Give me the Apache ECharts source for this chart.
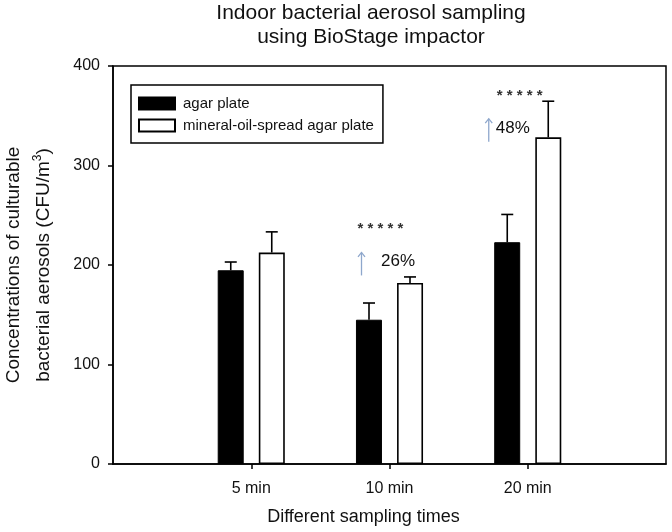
<!DOCTYPE html>
<html>
<head>
<meta charset="utf-8">
<script src="https://cdn.jsdelivr.net/npm/echarts@6/dist/echarts.min.js"></script>
<style>html,body{margin:0;padding:0;background:#fff}#c{width:672px;height:532px}</style>
</head>
<body>
<div id="c"></div>
<script>
// ---- data ----
const categories = ['', '5 min', '10 min', '20 min', ''];
const seriesNames = ['agar plate', 'mineral-oil-spread agar plate'];
const agarValues = [194.7, 145, 222.9];
const agarErr = [8.3, 16.8, 27.9];
const oilValues = [212.5, 182, 328.3];
const oilErr = [20.8, 6, 36.3];
const yTicks = [0, 100, 200, 300, 400];
const starText = ['* * * * *', '* * * * *'];
const pctText = ['26%', '48%'];
const annotCats = [2, 3];

const FONT = '"Liberation Sans", Arial, sans-serif';
const chart = echarts.init(document.getElementById('c'), null, {renderer: 'canvas'});

function barData(vals) { return vals.map((v, i) => [i + 1, v]); }
function errData(vals, errs) { return vals.map((v, i) => [i + 1, v, v + errs[i]]); }

function errRender(offset) {
  return function (params, api) {
    const base = api.coord([api.value(0), api.value(1)]);
    const top = api.coord([api.value(0), api.value(2)]);
    const x = base[0] + offset;
    const half = 6;
    const st = {stroke: '#000', lineWidth: 1.6};
    return {type: 'group', children: [
      {type: 'line', shape: {x1: x, y1: base[1], x2: x, y2: top[1]}, style: st},
      {type: 'line', shape: {x1: x - half, y1: top[1], x2: x + half, y2: top[1]}, style: st}
    ]};
  };
}

const option = {
  animation: false,
  backgroundColor: '#fff',
  title: {
    text: 'Indoor bacterial aerosol sampling\nusing BioStage impactor',
    left: 371, top: 1, padding: 0, textAlign: 'center',
    textStyle: {fontFamily: FONT, fontSize: 21, fontWeight: 'normal', color: '#111', lineHeight: 24}
  },
  legend: {
    orient: 'vertical', left: 131, top: 85,
    padding: [11, 9, 10, 7],
    borderColor: '#000', borderWidth: 1.5,
    itemWidth: 36, itemHeight: 12, itemGap: 7, icon: 'rect',
    textStyle: {fontFamily: FONT, fontSize: 15, color: '#111', padding: [0, 0, 0, 3]},
    data: seriesNames
  },
  grid: {left: 113, right: 6, top: 66, bottom: 68, containLabel: false, outerBoundsMode: 'none',
    show: true, borderColor: '#000', borderWidth: 1.5, backgroundColor: 'transparent'},
  xAxis: {
    type: 'category', data: categories, boundaryGap: false,
    axisLine: {lineStyle: {color: '#000', width: 1.5}},
    axisTick: {length: 5, lineStyle: {color: '#000', width: 1.5}, interval: (i) => i > 0 && i < categories.length - 1},
    axisLabel: {fontFamily: FONT, fontSize: 16, color: '#111', margin: 17, interval: 0},
    splitLine: {show: false},
    name: 'Different sampling times', nameLocation: 'middle', nameGap: 44,
    nameTextStyle: {fontFamily: FONT, fontSize: 18, color: '#111', padding: [0, 52, 0, 0]}
  },
  yAxis: {
    type: 'value', min: yTicks[0], max: yTicks[yTicks.length - 1], interval: 100,
    axisLine: {show: true, lineStyle: {color: '#000', width: 1.5}},
    axisTick: {show: true, length: 5, lineStyle: {color: '#000', width: 1.5}},
    axisLabel: {fontFamily: FONT, fontSize: 16, color: '#111', margin: 13},
    splitLine: {show: false},
    name: '{a|Concentrations of culturable}\n{a|bacterial aerosols (CFU/m}{s|3}{a|)}',
    nameLocation: 'middle', nameGap: 54, nameRotate: 90,
    nameTextStyle: {
      rich: {
        a: {fontFamily: FONT, fontSize: 19, color: '#111', lineHeight: 30},
        s: {fontFamily: FONT, fontSize: 12, color: '#111', lineHeight: 30, padding: [0, 0, 12, 0]}
      }
    }
  },
  series: [
    {name: seriesNames[0], type: 'bar', data: barData(agarValues), barWidth: 26, barGap: '58%',
     itemStyle: {color: '#000', borderColor: '#000', borderWidth: 1}},
    {name: seriesNames[1], type: 'bar', data: barData(oilValues), barWidth: 26, barGap: '58%',
     itemStyle: {color: '#fff', borderColor: '#000', borderWidth: 1.6}},
    {type: 'custom', renderItem: errRender(-20.5), data: errData(agarValues, agarErr), z: 5, silent: true},
    {type: 'custom', renderItem: errRender(20.5), data: errData(oilValues, oilErr), z: 5, silent: true}
  ]
};
chart.setOption(option);

// annotations placed relative to the white bars' error-bar caps (pixel offsets only)
const annotLayout = [
  {star: [-9, -51], pct: [8.5, -16], arrow: [-28, -13]},
  {star: [-8, -8], pct: [-15, 27], arrow: [-39, 29]}
];
const graphics = [];
annotCats.forEach((cat, k) => {
  const vi = cat - 1;
  const p = chart.convertToPixel({xAxisIndex: 0, yAxisIndex: 0}, [cat, oilValues[vi] + oilErr[vi]]);
  const L = annotLayout[k];
  graphics.push({type: 'text', x: p[0] + L.star[0], y: p[1] + L.star[1] + 3,
    style: {text: starText[k], font: 'bold 15px ' + FONT, fill: '#333', textAlign: 'center', textVerticalAlign: 'middle'}});
  graphics.push({type: 'text', x: p[0] + L.pct[0], y: p[1] + L.pct[1],
    style: {text: pctText[k], font: '17px ' + FONT, fill: '#111', textAlign: 'center', textVerticalAlign: 'middle'}});
  const ax = p[0] + L.arrow[0], ay = p[1] + L.arrow[1];
  graphics.push({type: 'line', shape: {x1: ax, y1: ay - 11.5, x2: ax, y2: ay + 11.5}, style: {stroke: '#8ea7cc', lineWidth: 1.3}});
  graphics.push({type: 'polyline', shape: {points: [[ax - 3.5, ay - 7], [ax, ay - 11.5], [ax + 3.5, ay - 7]]}, style: {stroke: '#8ea7cc', lineWidth: 1.3, fill: null}});
});
chart.setOption({graphic: graphics});
</script>
</body>
</html>
